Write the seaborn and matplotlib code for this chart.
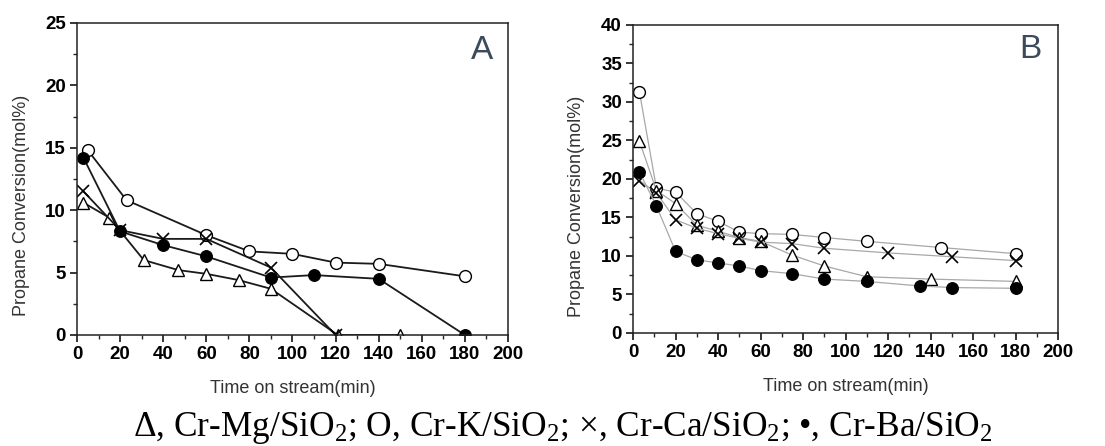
import matplotlib
matplotlib.use("Agg")
import matplotlib.pyplot as plt
import seaborn as sns
import numpy as np
from matplotlib.ticker import MultipleLocator

# ---------------- data ----------------
# Panel A
a_mg_x = [3, 15, 31, 47, 60, 75, 90, 121, 150]
a_mg_y = [10.6, 9.4, 6.0, 5.2, 4.9, 4.4, 3.7, 0.0, 0.0]
a_k_x = [5, 23, 60, 80, 100, 120, 140, 180]
a_k_y = [14.8, 10.8, 8.0, 6.7, 6.5, 5.8, 5.7, 4.7]
a_ca_x = [3, 20, 40, 60, 90, 120]
a_ca_y = [11.5, 8.4, 7.7, 7.7, 5.4, 0.0]
a_ba_x = [3, 20, 40, 60, 90, 110, 140, 180]
a_ba_y = [14.2, 8.3, 7.2, 6.3, 4.6, 4.8, 4.5, 0.0]

# Panel B
b_k_x = [3, 11, 20, 30, 40, 50, 60, 75, 90, 110, 145, 180]
b_k_y = [31.3, 18.8, 18.3, 15.5, 14.5, 13.1, 12.9, 12.8, 12.4, 11.9, 11.1, 10.3]
b_mg_x = [3, 11, 20, 30, 40, 50, 60, 75, 90, 110, 140, 180]
b_mg_y = [24.9, 18.5, 16.8, 14.0, 13.2, 12.4, 11.9, 10.1, 8.7, 7.3, 7.0, 6.7]
b_ca_x = [3, 11, 20, 30, 40, 50, 60, 75, 90, 120, 150, 180]
b_ca_y = [19.8, 18.2, 14.7, 13.6, 12.9, 12.3, 11.8, 11.6, 11.0, 10.4, 9.9, 9.4]
b_ba_x = [3, 11, 20, 30, 40, 50, 60, 75, 90, 110, 135, 150, 180]
b_ba_y = [20.9, 16.5, 10.6, 9.5, 9.1, 8.7, 8.1, 7.7, 7.0, 6.7, 6.1, 5.9, 5.8]

x_ticks = [0, 20, 40, 60, 80, 100, 120, 140, 160, 180, 200]
a_y_ticks = [0, 5, 10, 15, 20, 25]
b_y_ticks = [0, 5, 10, 15, 20, 25, 30, 35, 40]
x_label = "Time on stream(min)"
y_label = "Propane Conversion(mol%)"
caption = r"Δ, Cr-Mg/SiO$_2$; O, Cr-K/SiO$_2$; ×, Cr-Ca/SiO$_2$; •, Cr-Ba/SiO$_2$"

# ---------------- style ----------------
sns.set_style("ticks")
plt.rcParams['font.family'] = ['Liberation Sans', 'DejaVu Sans']
plt.rcParams['mathtext.fontset'] = 'custom'
plt.rcParams['mathtext.rm'] = 'Liberation Serif'
plt.rcParams['mathtext.it'] = 'Liberation Serif:italic'

fig = plt.figure(figsize=(11.05, 4.46), dpi=100)
axA = fig.add_axes([0.0697, 0.2489, 0.390, 0.6996])
axB = fig.add_axes([0.5729, 0.2534, 0.3846, 0.6906])

markers = {
    'mg': dict(marker='^', markerfacecolor='white', markeredgecolor='black', markersize=9, markeredgewidth=1.0),
    'k': dict(marker='o', markerfacecolor='white', markeredgecolor='black', markersize=8.5, markeredgewidth=1.0),
    'ca': dict(marker='x', markeredgecolor='black', markersize=9, markeredgewidth=1.2),
    'ba': dict(marker='o', markerfacecolor='black', markeredgecolor='black', markersize=8.5),
}

def draw(ax, x, y, key, lc, lw):
    sns.lineplot(x=x, y=y, ax=ax, color=lc, linewidth=lw, **markers[key])

draw(axA, a_mg_x, a_mg_y, 'mg', '#1a1a1a', 1.3)
draw(axA, a_k_x, a_k_y, 'k', '#1a1a1a', 1.3)
draw(axA, a_ca_x, a_ca_y, 'ca', '#1a1a1a', 1.3)
draw(axA, a_ba_x, a_ba_y, 'ba', '#1a1a1a', 1.3)

draw(axB, b_k_x, b_k_y, 'k', '#a8a8a8', 0.9)
draw(axB, b_mg_x, b_mg_y, 'mg', '#a8a8a8', 0.9)
draw(axB, b_ca_x, b_ca_y, 'ca', '#a8a8a8', 0.9)
draw(axB, b_ba_x, b_ba_y, 'ba', '#a8a8a8', 0.9)

for ax, yt, ymax, letter, lx, ly, ylx, yly in [
        (axA, a_y_ticks, 25, 'A', 0.94, 0.913, -0.109, 0.417),
        (axB, b_y_ticks, 40, 'B', 0.934, 0.92, -0.113, 0.41)]:
    ax.set_xlim(0, 200)
    ax.set_ylim(0, ymax)
    ax.set_xticks(x_ticks)
    ax.set_yticks(yt)
    ax.xaxis.set_minor_locator(MultipleLocator(10))
    ax.yaxis.set_minor_locator(MultipleLocator(2.5))
    ax.tick_params(which='major', direction='out', length=5, width=1.1, colors='black',
                   labelsize=13.5, top=False, right=False, pad=3)
    ax.tick_params(which='minor', direction='out', length=3, width=1.0, top=False, right=False)
    for lab in ax.get_xticklabels() + ax.get_yticklabels():
        lab.set_fontweight('bold')
    for sp in ax.spines.values():
        sp.set_visible(True)
        sp.set_color('#222222')
        sp.set_linewidth(1.1)
    ax.set_xlabel(x_label, fontsize=13, color='#333333', labelpad=12)
    ax.set_ylabel(y_label, fontsize=13, color='#333333')
    ax.yaxis.set_label_coords(ylx, yly)
    ax.text(lx, ly, letter, transform=ax.transAxes, ha='center', va='center',
            fontsize=24, color='#3d4a5c')

fig.text(0.5095, 0.04, caption, ha='center', va='center', fontsize=25.4,
         family='Liberation Serif', color='black')

fig.savefig("out.png", dpi=100)
